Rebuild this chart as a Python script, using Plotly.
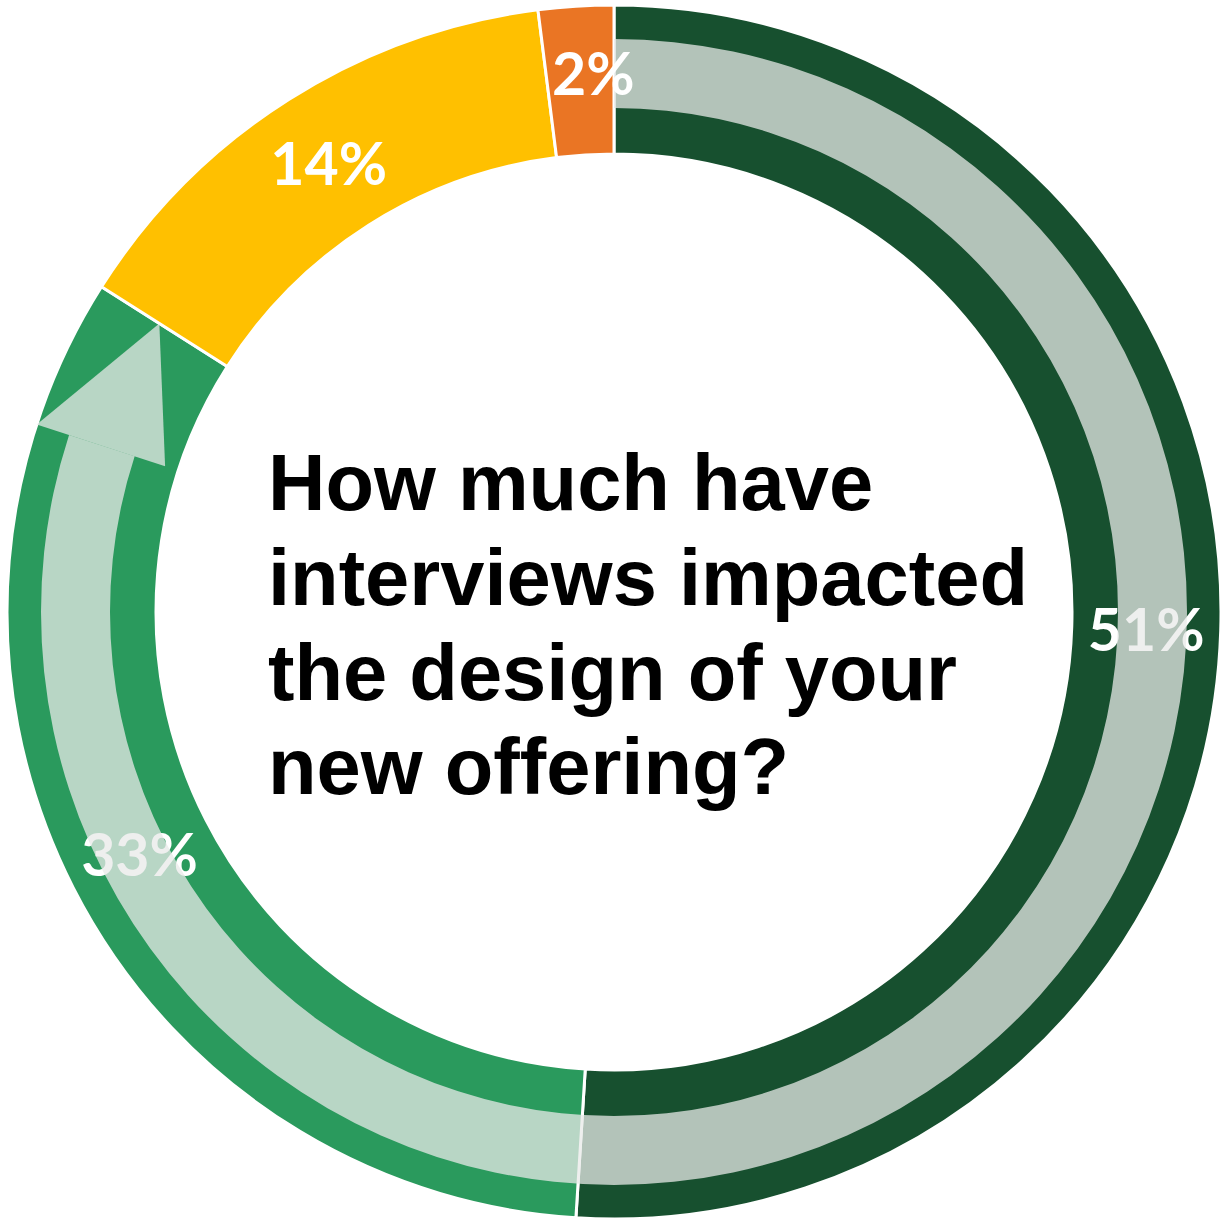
import math
import plotly.graph_objects as go

# ---- data ----
CATEGORIES = ["Segment A", "Segment B", "Segment C", "Segment D"]
PERCENTS = [51, 33, 14, 2]
QUESTION_LINES = ["How much have", "interviews impacted", "the design of your", "new offering?"]

# ---- style ----
SLICE_COLORS = ["#17502f", "#2a9a5d", "#ffc000", "#ea7524"]
OVERLAY = "rgba(232,234,232,0.75)"
W = H = 1224
CX, CY = 614, 612          # pixel centre of the donut
R_OUT = 607                # outer radius (px)
R_IN = 458                 # inner radius (px)
BAND_IN, BAND_OUT = 504, 573
ARROW_HEAD = 0.04          # fraction of circle taken by arrow head
HEAD_IN, HEAD_OUT = 472, 607
LABEL_R = 535
LABEL_FONT = dict(family="Lato", size=59, color="white", weight="bold")
MIN_INSIDE = 5             # slices smaller than this get an annotation label

def dom(r, c, size):
    return [(c - r) / size, (c + r) / size]

def pt(r, frac):
    th = 2 * math.pi * frac
    px = CX + r * math.sin(th)
    py = CY - r * math.cos(th)
    return px / W, 1 - py / H

total = sum(PERCENTS)
text_pos = ["inside" if v >= MIN_INSIDE else "none" for v in PERCENTS]

fig = go.Figure()

# main donut
fig.add_trace(go.Pie(
    labels=CATEGORIES,
    values=PERCENTS,
    sort=False,
    direction="clockwise",
    rotation=0,
    hole=R_IN / R_OUT,
    marker=dict(colors=SLICE_COLORS, line=dict(color="white", width=3)),
    texttemplate="%{value}%",
    textposition=text_pos,
    insidetextorientation="horizontal",
    textfont=LABEL_FONT,
    domain=dict(x=dom(R_OUT, CX, W), y=dom(R_OUT, H - CY, H)),
    showlegend=False,
    hoverinfo="label+percent",
))

# translucent arrow band (clockwise from top to the arrow head)
arrow_end = sum(PERCENTS[:2]) / total     # tip of arrow at end of 2nd slice
band_end = arrow_end - ARROW_HEAD
fig.add_trace(go.Pie(
    values=[band_end, 1 - band_end],
    labels=["band", "rest"],
    sort=False,
    direction="clockwise",
    rotation=0,
    hole=BAND_IN / BAND_OUT,
    marker=dict(colors=[OVERLAY, "rgba(0,0,0,0)"], line=dict(width=0)),
    textinfo="none",
    hoverinfo="skip",
    domain=dict(x=dom(BAND_OUT, CX, W), y=dom(BAND_OUT, H - CY, H)),
    showlegend=False,
))

# arrow head (triangle)
p1 = pt(HEAD_OUT, band_end)
p2 = pt((BAND_IN + BAND_OUT) / 2, arrow_end)
p3 = pt(HEAD_IN, band_end)
path = f"M {p1[0]} {p1[1]} L {p2[0]} {p2[1]} L {p3[0]} {p3[1]} Z"
fig.add_shape(type="path", path=path, xref="paper", yref="paper",
              fillcolor=OVERLAY, line=dict(width=0), layer="above")

# labels for thin slices (not shrunk)
cum = 0
for v in PERCENTS:
    mid = (cum + v / 2) / total
    cum += v
    if v < MIN_INSIDE:
        x, y = pt(LABEL_R, mid)
        fig.add_annotation(text=f"{v}%", x=x, y=y, xref="paper", yref="paper",
                           xanchor="center", yanchor="middle", showarrow=False,
                           xshift=13, yshift=6, font=LABEL_FONT)

# centre question text
line_mid_px = [483, 577.5, 672, 766.5]
for txt, ypx in zip(QUESTION_LINES, line_mid_px):
    fig.add_annotation(
        text=txt, x=266 / W, y=1 - ypx / H, xref="paper", yref="paper",
        xanchor="left", yanchor="middle", showarrow=False,
        font=dict(family="Liberation Sans", size=79.5, color="black", weight="bold"),
    )

fig.update_layout(
    width=W, height=H,
    margin=dict(l=0, r=0, t=0, b=0),
    paper_bgcolor="white", plot_bgcolor="white",
)

fig.write_html("out.html")
